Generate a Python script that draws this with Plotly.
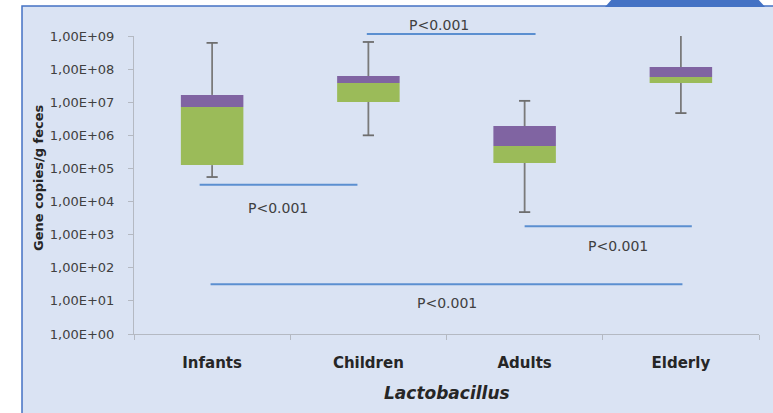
import numpy as np
import plotly.graph_objects as go

# Lactobacillus gene copies per gram of feces, by age group
groups = ["Infants", "Children", "Adults", "Elderly"]
whisker_low = [5.5e4, 1.0e6, 4.8e3, 4.7e6]
q1 = [1.26e5, 1.02e7, 1.46e5, 3.8e7]
median = [7.2e6, 3.8e7, 4.8e5, 5.8e7]
q3 = [1.66e7, 6.2e7, 1.9e6, 1.15e8]
whisker_high = [6.2e8, 6.6e8, 1.1e7, 1.3e9]

y_exponents = list(range(10))
y_tick_labels = ["1,00E+%02d" % e for e in y_exponents]

# significance brackets between groups (x in group units, level in copies/g)
bracket_start = [0.99, -0.08, 2.00, -0.01]
bracket_end = [2.07, 0.93, 3.07, 3.01]
bracket_level = [1.15e9, 3.2e4, 1.8e3, 32]
p_text = ["P<0.001", "P<0.001", "P<0.001", "P<0.001"]
p_text_x = [1.45, 0.42, 2.60, 1.50]
p_text_level = [2.1e9, 6.5e3, 4.6e2, 8.7]

W, H = 773, 413
FONT = "DejaVu Sans"
x_dom = [134 / W, 759 / W]
y_dom = [(H - 334) / H, (H - 36) / H]
y_range = [0, 9]


def level_to_paper(v):
    frac = (np.log10(v) - y_range[0]) / (y_range[1] - y_range[0])
    return y_dom[0] + frac * (y_dom[1] - y_dom[0])


pos = list(range(len(groups)))
q1a, meda, q3a = np.array(q1), np.array(median), np.array(q3)

fig = go.Figure()

# lower half of each box (Q1 -> median)
fig.add_trace(go.Bar(x=pos, y=meda - q1a, base=q1, width=0.4,
                     marker=dict(color="#9bbb59", line=dict(width=0)),
                     hoverinfo="skip"))
# upper half of each box (median -> Q3)
fig.add_trace(go.Bar(x=pos, y=q3a - meda, base=median, width=0.4,
                     marker=dict(color="#8064a2", line=dict(width=0)),
                     hoverinfo="skip"))

# whiskers outside the boxes
wx, wy = [], []
for i in pos:
    wx += [i, i, None, i, i, None]
    wy += [q3[i], whisker_high[i], None, q1[i], whisker_low[i], None]
fig.add_trace(go.Scatter(x=wx, y=wy, mode="lines",
                         line=dict(color="#7a7a7a", width=1.8),
                         hoverinfo="skip"))
# whisker caps
fig.add_trace(go.Scatter(x=pos + pos, y=whisker_high + whisker_low,
                         mode="markers", cliponaxis=True,
                         marker=dict(symbol="line-ew", size=8,
                                     line=dict(color="#6e6e6e", width=1.8)),
                         hoverinfo="skip"))

shapes = [
    # chart panel
    dict(type="rect", xref="paper", yref="paper", layer="below",
         x0=22 / W, x1=1.05, y0=-0.05, y1=1 - 6 / H,
         fillcolor="#dae3f3", line=dict(color="#4472c4", width=1.5)),
    # tab on the top edge
    dict(type="path", xref="paper", yref="paper", layer="below",
         path="M %f,%f L %f,%f L %f,%f L %f,%f Z" % (
             605 / W, 1 - 7 / H, 613 / W, 1 + 2 / H,
             757 / W, 1 + 2 / H, 765 / W, 1 - 7 / H),
         fillcolor="#4472c4", line=dict(width=0)),
]
for a, b, lv in zip(bracket_start, bracket_end, bracket_level):
    yp = level_to_paper(lv)
    shapes.append(dict(type="line", xref="x", yref="paper",
                       x0=a, x1=b, y0=yp, y1=yp,
                       line=dict(color="#5b8fd0", width=2)))

annotations = []
for t, tx, tl in zip(p_text, p_text_x, p_text_level):
    annotations.append(dict(text=t, x=tx, y=level_to_paper(tl),
                            xref="x", yref="paper", showarrow=False,
                            xanchor="center", yanchor="middle",
                            font=dict(family=FONT, size=14, color="#404040")))
annotations.append(dict(text="<b><i>Lactobacillus</i></b>",
                        x=(x_dom[0] + x_dom[1]) / 2, y=1 - 393 / H,
                        xref="paper", yref="paper", showarrow=False,
                        xanchor="center", yanchor="middle",
                        font=dict(family=FONT, size=17, color="#262626")))
annotations.append(dict(text="<b>Gene copies/g feces</b>", textangle=-90,
                        x=38 / W, y=1 - 178 / H,
                        xref="paper", yref="paper", showarrow=False,
                        xanchor="center", yanchor="middle",
                        font=dict(family=FONT, size=13, color="#262626")))

fig.update_layout(
    width=W, height=H,
    margin=dict(l=0, r=0, t=0, b=0, pad=0, autoexpand=False),
    paper_bgcolor="white", plot_bgcolor="rgba(0,0,0,0)",
    barmode="overlay", showlegend=False,
    shapes=shapes, annotations=annotations,
    xaxis=dict(domain=x_dom, range=[-0.5, 3.5], tickvals=pos, ticktext=groups,
               ticks="", showgrid=False, zeroline=False, automargin=False,
               showline=True, linecolor="#b4b9c2", linewidth=1,
               ticklabelstandoff=15,
               tickfont=dict(family=FONT, size=15, color="#262626", weight="bold"),
               minor=dict(tickvals=[-0.5, 0.5, 1.5, 2.5, 3.5], ticks="outside",
                          ticklen=5, tickcolor="#b4b9c2", showgrid=False)),
    yaxis=dict(domain=y_dom, type="log", range=y_range,
               tickvals=[10.0 ** e for e in y_exponents], ticktext=y_tick_labels,
               ticks="outside", ticklen=5, tickcolor="#b4b9c2",
               showgrid=False, zeroline=False, automargin=False,
               showline=True, linecolor="#b4b9c2", linewidth=1,
               ticklabelstandoff=11,
               tickfont=dict(family=FONT, size=13, color="#404040")),
)

fig.write_html("out.html")
